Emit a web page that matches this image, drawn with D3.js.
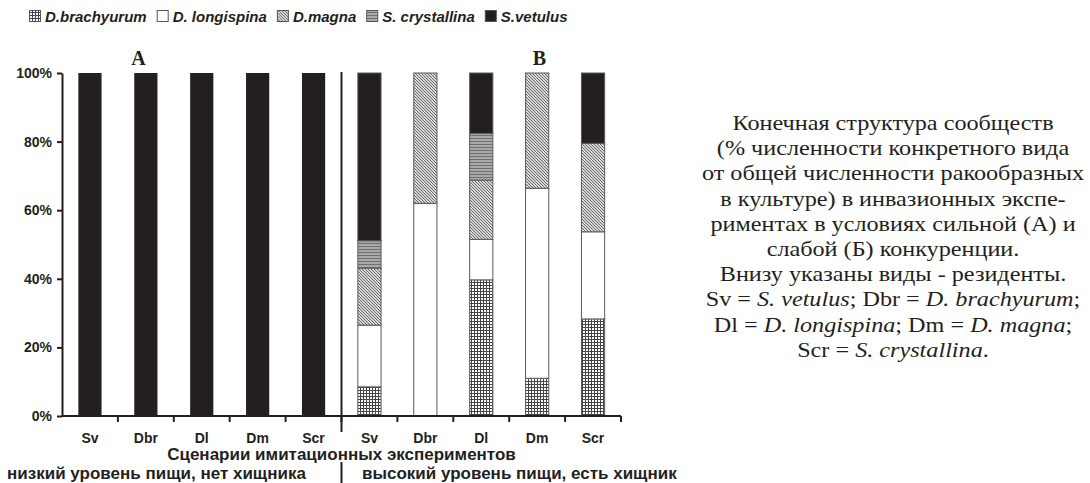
<!DOCTYPE html>
<html><head><meta charset="utf-8">
<script src="https://cdn.jsdelivr.net/npm/d3@7"></script>
<style>body{margin:0;background:#fff}svg{display:block}</style>
</head><body>
<svg id="chart" width="1090" height="483"></svg>
<script>
// ---- data ----
const categories = ["Sv","Dbr","Dl","Dm","Scr","Sv","Dbr","Dl","Dm","Scr"];
const seriesNames = ["D.brachyurum","D. longispina","D.magna","S. crystallina","S.vetulus"];
const brachyurum  = [0,0,0,0,0, 8.5, 0, 39.7, 11, 28.3];
const longispina  = [0,0,0,0,0, 18, 62, 11.8, 55.4, 25.4];
const magna       = [0,0,0,0,0, 16.6, 38, 17.3, 33.6, 25.8];
const crystallina = [0,0,0,0,0, 8, 0, 13.6, 0, 0];
const vetulus     = [100,100,100,100,100, 48.9, 0, 17.6, 0, 20.5];
const yTicks = [0,20,40,60,80,100];
const panelLabels = ["A","B"];
const groupLabels = ["низкий уровень пищи, нет хищника","высокий уровень пищи, есть хищник"];
const xTitle = "Сценарии имитационных экспериментов";
const noteLines = [
  [{t:"Конечная структура сообществ"}],
  [{t:"(% численности конкретного вида"}],
  [{t:"от общей численности ракообразных"}],
  [{t:"в культуре) в инвазионных экспе-"}],
  [{t:"риментах в условиях сильной (А) и"}],
  [{t:"слабой (Б) конкуренции."}],
  [{t:"Внизу указаны виды - резиденты."}],
  [{t:"Sv = "},{t:"S. vetulus",i:1},{t:"; Dbr = "},{t:"D. brachyurum",i:1},{t:";"}],
  [{t:"Dl = "},{t:"D. longispina",i:1},{t:"; Dm = "},{t:"D. magna",i:1},{t:";"}],
  [{t:"Scr = "},{t:"S. crystallina",i:1},{t:"."}]
];

// ---- build ----
const svg = d3.select("#chart");
const defs = svg.append("defs");
const pBr = defs.append("pattern").attr("id","pBr").attr("patternUnits","userSpaceOnUse").attr("width",3).attr("height",3);
pBr.append("rect").attr("width",3).attr("height",3).attr("fill","#fff");
pBr.append("rect").attr("width",3).attr("height",1).attr("fill","#444");
pBr.append("rect").attr("width",1).attr("height",3).attr("fill","#444");
const pMg = defs.append("pattern").attr("id","pMg").attr("patternUnits","userSpaceOnUse").attr("width",3).attr("height",3);
pMg.append("rect").attr("width",3).attr("height",3).attr("fill","#d8d8d8");
pMg.append("path").attr("d","M0,0 L3,3 M-1,2 L1,4 M2,-1 L4,1").attr("stroke","#6a6a6a").attr("stroke-width",1);
const pCr = defs.append("pattern").attr("id","pCr").attr("patternUnits","userSpaceOnUse").attr("width",4).attr("height",3);
pCr.append("rect").attr("width",4).attr("height",3).attr("fill","#aaa");
pCr.append("rect").attr("width",4).attr("height",1).attr("fill","#707070");

const fills = ["url(#pBr)","#fff","url(#pMg)","url(#pCr)","#231f20"];

const margin = {left:62, right:621, top:73, bottom:416};
const idx = d3.range(categories.length);
const x = d3.scaleBand().domain(idx).range([margin.left, margin.right]).padding(0);
const y = d3.scaleLinear().domain([0,100]).range([margin.bottom, margin.top]);
const barW = x.bandwidth()*0.415;

const rows = idx.map(i => ({i, b:brachyurum[i], l:longispina[i], m:magna[i], c:crystallina[i], v:vetulus[i]}));
const stack = d3.stack().keys(["b","l","m","c","v"]);
const layers = stack(rows);

const g = svg.append("g");
layers.forEach((layer, k) => {
  g.selectAll(null).data(layer.filter(d => d[1]-d[0] > 0)).join("rect")
    .attr("x", d => x(d.data.i) + (x.bandwidth()-barW)/2)
    .attr("width", barW)
    .attr("y", d => y(d[1]))
    .attr("height", d => y(d[0]) - y(d[1]))
    .attr("fill", fills[k])
    .attr("stroke", d => d.data.i < 5 ? "none" : "#5a5a5a")
    .attr("stroke-width", 1);
});

const sans = "Liberation Sans, Arial, sans-serif";
const serif = "Liberation Serif, Times New Roman, serif";

// y axis
const yAxis = d3.axisLeft(y).tickValues(yTicks).tickFormat(d => d + "%").tickSize(5).tickSizeOuter(0);
const ya = svg.append("g").attr("transform",`translate(${margin.left},0)`).call(yAxis);
ya.select(".domain").attr("stroke","#231f20").attr("stroke-width",2);
ya.selectAll(".tick line").attr("stroke","#231f20").attr("stroke-width",2);
ya.selectAll(".tick text").attr("x",-10).attr("font-family",sans).attr("font-weight","bold").attr("font-size",14).attr("fill","#231f20");

// x axis
const xa = svg.append("g").attr("transform",`translate(0,${margin.bottom})`);
xa.append("line").attr("x1",margin.left).attr("x2",margin.right).attr("y1",0).attr("y2",0).attr("stroke","#231f20").attr("stroke-width",2);
xa.selectAll(".tk").data(idx.slice(1).concat([idx.length])).join("line")
  .attr("x1", i => i < idx.length ? x(i) : margin.right)
  .attr("x2", i => i < idx.length ? x(i) : margin.right)
  .attr("y1",0).attr("y2",6).attr("stroke","#231f20").attr("stroke-width",2);
xa.selectAll(".lbl").data(idx).join("text")
  .attr("x", i => x(i) + x.bandwidth()/2)
  .attr("y", 27).attr("text-anchor","middle")
  .attr("font-family",sans).attr("font-weight","bold").attr("font-size",14).attr("fill","#231f20")
  .text(i => categories[i]);

// divider
const divX = x(5);
svg.append("line").attr("x1",divX).attr("x2",divX).attr("y1",margin.top-1).attr("y2",432).attr("stroke","#231f20").attr("stroke-width",2);
svg.append("line").attr("x1",divX).attr("x2",divX).attr("y1",462).attr("y2",483).attr("stroke","#231f20").attr("stroke-width",2);

// panel labels
svg.selectAll(".pl").data(panelLabels).join("text")
  .attr("x",(d,k)=> k===0 ? x(1) + x.bandwidth()*0.37 : x(8) + x.bandwidth()*0.54)
  .attr("y",65).attr("text-anchor","middle")
  .attr("font-family",serif).attr("font-weight","bold").attr("font-size",20).attr("fill","#231f20")
  .text(d=>d);

// x title
svg.append("text").attr("x", divX).attr("y",460).attr("text-anchor","middle")
  .attr("font-family",sans).attr("font-weight","bold").attr("font-size",17).attr("fill","#231f20")
  .text(xTitle);
// group labels
svg.append("text").attr("x",7).attr("y",479)
  .attr("font-family",sans).attr("font-weight","bold").attr("font-size",17).attr("fill","#231f20")
  .text(groupLabels[0]);
svg.append("text").attr("x",362).attr("y",479)
  .attr("font-family",sans).attr("font-weight","bold").attr("font-size",17).attr("fill","#231f20")
  .text(groupLabels[1]);

// legend
const leg = svg.append("g").attr("transform","translate(29,0)");
let lx = 0;
seriesNames.forEach((name,k) => {
  const it = leg.append("g").attr("transform",`translate(${lx},0)`);
  it.append("rect").attr("x",0.5).attr("y",10.5).attr("width",11).attr("height",11).attr("fill",fills[k]).attr("stroke","#555").attr("stroke-width",1);
  const t = it.append("text").attr("x",16).attr("y",21.5)
    .attr("font-family",sans).attr("font-weight","bold").attr("font-style","italic").attr("font-size",15).attr("fill","#231f20")
    .text(name);
  lx += 16 + t.node().getComputedTextLength() + 10;
});

// note
const noteG = svg.append("g").attr("transform","translate(893,0) scale(1.1,1)");
const note = noteG.append("text").attr("text-anchor","middle")
  .attr("font-family",serif).attr("font-size",22).attr("fill","#231f20");
noteLines.forEach((line, k) => {
  const tl = note.append("tspan").attr("x",0).attr("y",130 + k*25.2);
  line.forEach(seg => {
    tl.append("tspan").attr("font-style", seg.i ? "italic" : null).text(seg.t);
  });
});
</script>
</body></html>
